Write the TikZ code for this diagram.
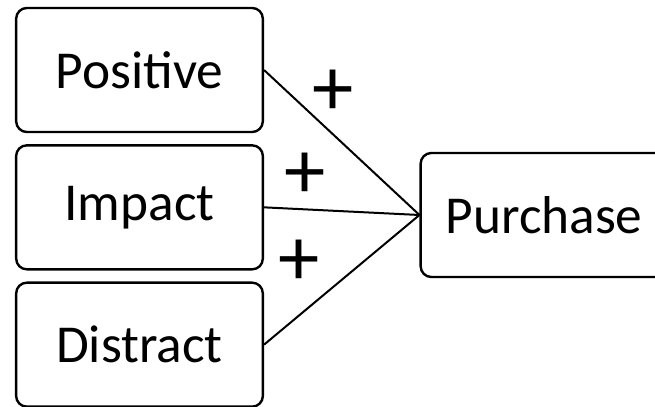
\documentclass[tikz,border=0pt]{standalone}
\usepackage{fontspec}
\setmainfont{Carlito}
\usetikzlibrary{positioning}

\begin{document}
\begin{tikzpicture}[x=0.75pt,y=-0.75pt,node distance=103pt,
        every node/.style={font=\fontsize{40}{48}\selectfont}]
        \tikzstyle{factor}=[draw,rounded corners=8pt,line width=1.8pt,
          minimum width=185pt,minimum height=93pt,inner sep=0pt]
        \tikzstyle{sign}=[font=\fontsize{62}{64}\selectfont,inner sep=0pt]
  \useasboundingbox (0,0) rectangle (655,406);
  \clip (0,0) rectangle (655,406);
  \node[factor] (pos) at (139.5,70) {Positive};
  \node[factor] (imp) [below of=pos] {Impact};
  \node[factor] (dis) [below of=imp] {Distract};
  \node[factor] (pur) at (544,215) {Purchase};

  \path[line width=1.5pt] (pos.east) edge node[sign,pos=0.445,yshift=31pt] {+} (pur.west)
        (imp.east) edge node[sign,pos=0.265,yshift=25pt] {+} (pur.west)
        (dis.east) edge node[sign,pos=0.226,yshift=39.5pt] {+} (pur.west);

\end{tikzpicture}
\end{document}
